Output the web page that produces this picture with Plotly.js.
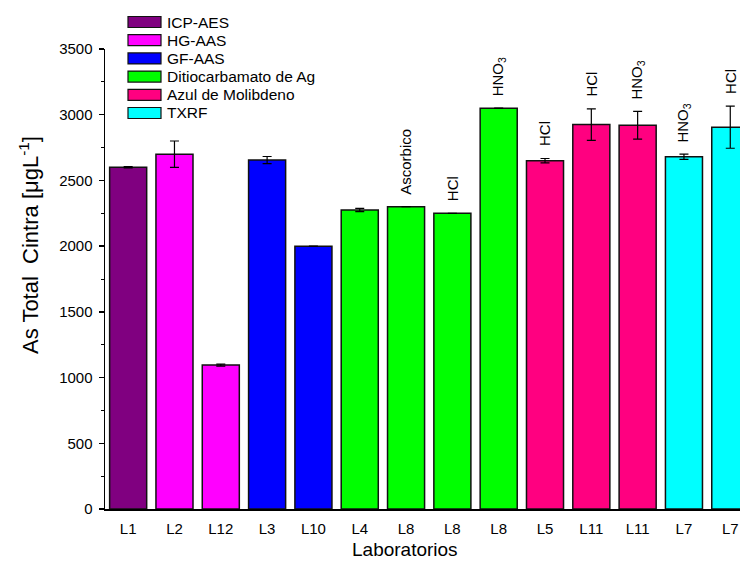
<!DOCTYPE html>
<html><head><meta charset="utf-8">
<script src="https://cdn.plot.ly/plotly-3.0.1.min.js"></script>
<style>html,body{margin:0;padding:0;background:#fff}#chart{width:740px;height:561px}</style>
</head><body><div id="chart"></div>
<script>
const labs = ['L1','L2','L12','L3','L10','L4','L8','L8','L8','L5','L11','L11','L7','L7'];
const values = [2600,2700,1095,2655,2000,2275,2300,2250,3050,2650,2925,2920,2680,2905];
const errors = [5,100,8,27,0,13,0,0,0,17,120,105,20,160];
const methodOf = [0,1,1,2,2,3,3,3,3,4,4,4,5,5];
const methods = ['ICP-AES','HG-AAS','GF-AAS','Ditiocarbamato de Ag','Azul de Molibdeno','TXRF'];
const colors = ['#800080','#FF00FF','#0000FF','#00FF00','#FF0080','#00FFFF'];
const notes = ['','','','','','','Ascorbico','HCl','HNO<sub>3</sub>','HCl','HCl','HNO<sub>3</sub>','HNO<sub>3</sub>','HCl'];

const FONT = '"Liberation Sans", Arial, sans-serif';
const idx = labs.map((_, i) => i);

const traces = methods.map((name, m) => {
  const ii = idx.filter(i => methodOf[i] === m);
  return {
    type: 'bar', name: name, showlegend: false,
    x: ii, y: ii.map(i => values[i]), width: 0.8,
    marker: {color: colors[m], line: {color: '#111', width: 1.5}},
    error_y: {type: 'data', array: ii.map(i => errors[i]), visible: true, color: '#000', thickness: 1.2, width: 4.5}
  };
});

const annotations = [];
idx.forEach(i => {
  if (notes[i]) annotations.push({
    xref: 'x', yref: 'y', x: i, y: values[i] + errors[i], text: notes[i],
    showarrow: false, textangle: -90, yanchor: 'bottom', xanchor: 'center', yshift: 10,
    font: {family: FONT, size: 15, color: '#000'}
  });
});
// axis titles
annotations.push({xref:'paper', yref:'paper', x:(405-105)/635, y:(509-549)/460, text:'Laboratorios',
  showarrow:false, xanchor:'center', yanchor:'middle', font:{family:FONT, size:19, color:'#000'}});
annotations.push({xref:'paper', yref:'paper', x:(29-105)/635, y:(509-245)/460, text:'As Total\u00a0 Cintra [μgL<sup>-1</sup>]',
  showarrow:false, textangle:-90, xanchor:'center', yanchor:'middle', font:{family:FONT, size:22, color:'#000'}});

// custom legend
const shapes = [];
methods.forEach((name, m) => {
  const cy = 22 + m * 18.2;
  shapes.push({type:'rect', xref:'paper', yref:'paper',
    x0:(128-105)/635, x1:(161-105)/635, y0:(509-(cy+5.5))/460, y1:(509-(cy-5.5))/460,
    fillcolor: colors[m], line:{color:'#111', width:1.2}});
  annotations.push({xref:'paper', yref:'paper', x:(165-105)/635, y:(509-cy)/460, text:name,
    showarrow:false, xanchor:'left', yanchor:'middle', font:{family:FONT, size:15.5, color:'#000'}});
});

const layout = {
  width: 740, height: 561,
  margin: {l:105, r:0, t:49, b:52},
  paper_bgcolor:'#fff', plot_bgcolor:'#fff',
  barmode: 'overlay',
  font: {family: FONT, size: 15, color:'#000'},
  xaxis: {range:[-0.5, 13.21], tickvals: idx, ticktext: labs, showline:true, linecolor:'#000', linewidth:1.5,
    ticks:'', showgrid:false, zeroline:false, tickfont:{family:FONT, size:15, color:'#000'}, ticklabelstandoff:5},
  yaxis: {range:[0,3500], dtick:500, tick0:0, showline:true, linecolor:'#000', linewidth:1.5,
    ticks:'outside', ticklen:5, tickwidth:1.5, tickcolor:'#000', showgrid:false, zeroline:false,
    minor:{dtick:250, ticks:'outside', ticklen:3, tickwidth:1, tickcolor:'#000'},
    tickfont:{family:FONT, size:15, color:'#000'}, ticklabelstandoff:3},
  annotations: annotations, shapes: shapes
};

Plotly.newPlot('chart', traces, layout, {displayModeBar:false, staticPlot:true});
</script></body></html>
